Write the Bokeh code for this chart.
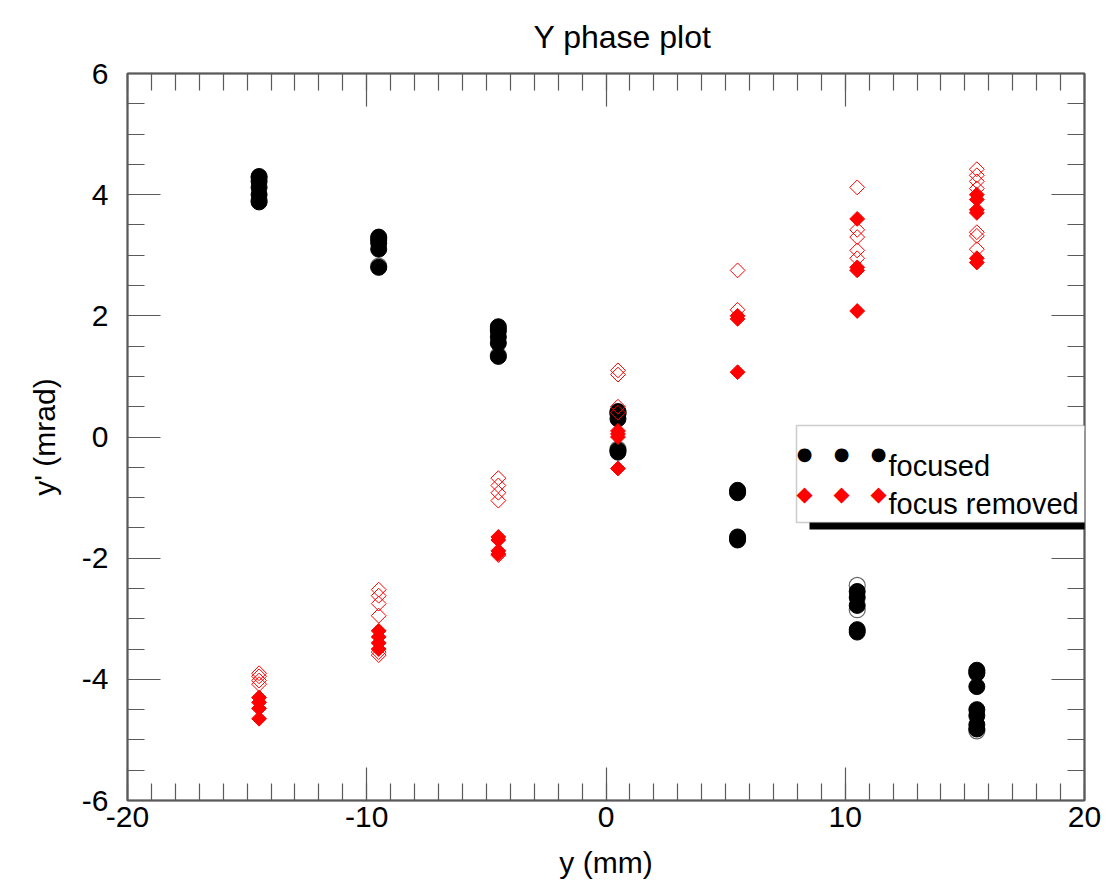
from bokeh.plotting import figure
from bokeh.models import (LinearAxis, Range1d, BoxAnnotation, Label,
                          SingleIntervalTicker, CustomJSTickFormatter)
from bokeh.embed import file_html
from bokeh.resources import INLINE
import numpy as np

# ---------------- data ----------------
title_text = "Y phase plot"
x_label = "y (mm)"
y_label = "y' (mrad)"
legend_labels = ["focused", "focus removed"]

y_positions = [-14.5, -9.5, -4.5, 0.5, 5.5, 10.5, 15.5]

focused_filled = [
    [4.30, 4.22, 4.12, 4.00, 3.88],
    [3.30, 3.25, 3.20, 3.10, 2.80],
    [1.82, 1.75, 1.65, 1.55, 1.33],
    [0.42, 0.38, 0.30, -0.22, -0.25],
    [-0.88, -0.92, -1.65, -1.70],
    [-2.55, -2.65, -2.78, -3.18, -3.22],
    [-3.85, -3.90, -4.12, -4.50, -4.60, -4.75, -4.82],
]
focused_open = [
    [4.28, 3.90],
    [3.28, 2.82],
    [1.78, 1.35],
    [0.40, -0.20],
    [-0.90, -1.68],
    [-2.45, -2.85],
    [-3.88, -4.85],
]
removed_filled = [
    [-4.30, -4.38, -4.48, -4.65],
    [-3.20, -3.30, -3.40, -3.50],
    [-1.65, -1.70, -1.88, -1.93],
    [0.10, 0.05, 0.00, -0.52],
    [2.00, 1.95, 1.07],
    [3.60, 2.80, 2.75, 2.08],
    [4.00, 3.92, 3.75, 3.70, 2.95, 2.88],
]
removed_open = [
    [-3.90, -3.95, -4.02, -4.08],
    [-2.52, -2.62, -2.75, -2.95, -3.55, -3.60],
    [-0.68, -0.80, -0.92, -1.05, -1.95],
    [1.10, 1.03, 0.50, 0.40],
    [2.75, 2.10],
    [4.12, 3.42, 3.30, 3.08, 2.95],
    [4.42, 4.32, 4.22, 4.10, 3.38, 3.32, 3.10],
]


def flatten(groups):
    xs, ys = [], []
    for xp, vals in zip(y_positions, groups):
        xs += [xp] * len(vals)
        ys += list(vals)
    return xs, ys


FONT = "Liberation Sans"
AX = "#5a5a5a"

p = figure(width=1113, height=890, x_range=Range1d(-20, 20), y_range=Range1d(-6, 6),
           output_backend="svg", toolbar_location=None,
           min_border_left=127, min_border_right=29, min_border_top=73, min_border_bottom=90,
           x_axis_location=None, y_axis_location=None)
p.title.text = title_text
p.title.align = "left"
p.title.offset = 406
p.title.text_font = FONT
p.title.text_font_size = "32px"
p.title.text_font_style = "normal"
p.title.text_color = "black"
p.title.vertical_align = "top"
p.title.standoff = 34
p.xgrid.visible = False
p.ygrid.visible = False
p.outline_line_color = AX
p.outline_line_width = 2
p.background_fill_color = "white"
p.border_fill_color = "white"

hyphen_fmt = "return tick.toFixed(0)"


def style_axis(ax, labels=True):
    ax.axis_line_color = AX
    ax.axis_line_width = 1.5
    ax.major_tick_line_color = AX
    ax.minor_tick_line_color = AX
    ax.major_tick_line_width = 1.2
    ax.minor_tick_line_width = 1.2
    ax.major_tick_in = 33
    ax.major_tick_out = 0
    ax.minor_tick_in = 17
    ax.minor_tick_out = 0
    ax.major_label_text_font = FONT
    ax.major_label_text_color = "black"
    ax.axis_label_text_font = FONT
    ax.axis_label_text_font_size = "30px"
    ax.axis_label_text_font_style = "normal"
    ax.axis_label_text_color = "black"
    if labels:
        ax.major_label_text_font_size = "30px"
        ax.formatter = CustomJSTickFormatter(code=hyphen_fmt)
    else:
        ax.major_label_text_font_size = "1px"
        ax.major_label_standoff = 0
        ax.formatter = CustomJSTickFormatter(code="return ''")


xb = LinearAxis(ticker=SingleIntervalTicker(interval=10, num_minor_ticks=10), axis_label=x_label)
style_axis(xb)
xb.major_label_standoff = 6
xb.axis_label_standoff = 16
p.add_layout(xb, "below")

xt = LinearAxis(ticker=SingleIntervalTicker(interval=10, num_minor_ticks=10))
style_axis(xt, labels=False)
p.add_layout(xt, "above")

yl = LinearAxis(ticker=SingleIntervalTicker(interval=2, num_minor_ticks=4), axis_label=y_label)
style_axis(yl)
yl.major_label_standoff = 19
yl.axis_label_standoff = 18
p.add_layout(yl, "left")

yr = LinearAxis(ticker=SingleIntervalTicker(interval=2, num_minor_ticks=4))
style_axis(yr, labels=False)
p.add_layout(yr, "right")

# ---------------- glyphs ----------------
x, y = flatten(focused_open)
p.scatter(x, y, marker="circle", size=16, fill_alpha=0, line_color="#666666", line_width=1.2)
x, y = flatten(focused_filled)
p.scatter(x, y, marker="circle", size=16, fill_color="black", line_color="black")
x, y = flatten(removed_open)
p.scatter(x, y, marker="square", angle=np.pi / 4, size=10.5, fill_alpha=0,
          line_color="red", line_width=1)
x, y = flatten(removed_filled)
p.scatter(x, y, marker="square", angle=np.pi / 4, size=10.5, fill_color="red", line_color="red")

# ---------------- legend (screen units, frame-relative) ----------------
def screen_box(l, r, b, t, **kw):
    return BoxAnnotation(left=l, right=r, bottom=b, top=t,
                         left_units="screen", right_units="screen",
                         top_units="screen", bottom_units="screen", level="overlay", **kw)


p.add_layout(screen_box(682, 1000, 271, 370, fill_color="black", fill_alpha=1, line_alpha=0))
p.add_layout(screen_box(669, 1000, 278, 375, fill_color="white", fill_alpha=1,
                        line_color=AX, line_width=1.5))

for xs in (677, 714, 751):
    p.add_layout(Label(x=xs, y=347, x_units="screen", y_units="screen", text="\u25cf",
                       text_font="DejaVu Sans", text_font_size="18px", text_color="black",
                       text_align="center", text_baseline="middle", level="overlay"))
    p.add_layout(Label(x=xs, y=307, x_units="screen", y_units="screen", text="\u25c6",
                       text_font="DejaVu Sans", text_font_size="21px", text_color="red",
                       text_align="center", text_baseline="middle", level="overlay"))

p.add_layout(Label(x=761, y=335, x_units="screen", y_units="screen", text=legend_labels[0],
                   text_font=FONT, text_font_size="29px", text_color="black",
                   text_baseline="alphabetic", level="overlay"))
p.add_layout(Label(x=761, y=297, x_units="screen", y_units="screen", text=legend_labels[1],
                   text_font=FONT, text_font_size="29px", text_color="black",
                   text_baseline="alphabetic", level="overlay"))

open("out.html", "w").write(file_html(p, INLINE))
